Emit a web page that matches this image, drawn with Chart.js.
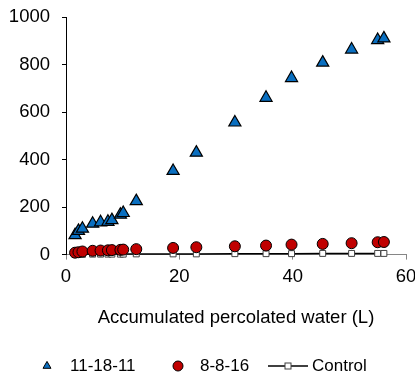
<!DOCTYPE html>
<html>
<head>
<meta charset="utf-8">
<script src="https://cdn.jsdelivr.net/npm/chart.js@4/dist/chart.umd.min.js"></script>
<style>
  html, body { margin: 0; padding: 0; background: #fff; }
  #wrap { width: 415px; height: 376px; }
</style>
</head>
<body>
<div id="wrap"><canvas id="chart"></canvas></div>
<script>
    "use strict";

    // Data
    const waterL    = [1.6, 2.2, 2.9, 4.7, 6.1, 7.4, 8.1, 9.6, 10.1, 12.4, 18.9, 23.0, 29.8, 35.3, 39.8, 45.3, 50.4, 55.0, 56.1];
    const soil111811 = [82, 100, 109, 130, 136, 138, 145, 168, 175, 225, 352, 429, 556, 660, 743, 808, 863, 903, 910];
    const soil8816   = [8, 10, 13, 16, 17, 18, 19, 20, 21, 23, 28, 31, 35, 38, 42, 45, 48, 52, 53];
    const control    = [1, 1, 1, 2, 2, 2, 2, 2, 2, 3, 3, 3, 4, 4, 4, 5, 5, 5, 5];
    const seriesNames = ['11-18-11', '8-8-16', 'Control'];
    const xTicks = [0, 20, 40, 60];
    const yTicks = [0, 200, 400, 600, 800, 1000];

    const FONT = '"Liberation Sans", Arial, sans-serif';
    const toPoints = function (ys) {
        return waterL.map(function (x, i) { return { x: x, y: ys[i] }; });
    };

    // Legend drawn under the axis title
    const bottomLegend = {
        id: 'bottomLegend',
        afterDraw: function (chart) {
            const ctx = chart.ctx;
            const y = chart.height - 10;
            ctx.save();
            ctx.lineWidth = 1;
            ctx.strokeStyle = '#000';

            // triangle
            const tx = 47, tr = 4.6;
            ctx.beginPath();
            ctx.moveTo(tx, y - tr);
            ctx.lineTo(tx + tr * 0.866, y + tr * 0.5);
            ctx.lineTo(tx - tr * 0.866, y + tr * 0.5);
            ctx.closePath();
            ctx.fillStyle = '#0a6fc0';
            ctx.fill();
            ctx.stroke();

            // circle
            ctx.beginPath();
            ctx.arc(178, y, 5, 0, Math.PI * 2);
            ctx.fillStyle = '#c00000';
            ctx.fill();
            ctx.stroke();

            // line + square
            ctx.beginPath();
            ctx.lineWidth = 1.5;
            ctx.moveTo(268, y);
            ctx.lineTo(308, y);
            ctx.stroke();
            ctx.lineWidth = 1;
            ctx.fillStyle = '#fff';
            ctx.fillRect(285, y - 3, 6, 6);
            ctx.strokeStyle = '#404040';
            ctx.strokeRect(285, y - 3, 6, 6);

            ctx.fillStyle = '#000';
            ctx.font = '17px ' + FONT;
            ctx.textBaseline = 'middle';
            ctx.textAlign = 'left';
            ctx.fillText(seriesNames[0], 70, y);
            ctx.fillText(seriesNames[1], 200, y);
            ctx.fillText(seriesNames[2], 312, y);
            ctx.restore();
        }
    };

    const ctx = document.getElementById('chart').getContext('2d');
    new Chart(ctx, {
        type: 'scatter',
        data: {
            datasets: [{
                label: seriesNames[2],
                data: toPoints(control),
                showLine: true,
                borderColor: '#000',
                borderWidth: 1.5,
                pointStyle: 'rect',
                pointRadius: 4.2,
                pointBackgroundColor: '#fff',
                pointBorderColor: '#404040',
                pointBorderWidth: 1,
                clip: false,
                order: 3
            }, {
                label: seriesNames[1],
                data: toPoints(soil8816),
                pointStyle: 'circle',
                pointRadius: 5.5,
                backgroundColor: '#c00000',
                borderColor: '#000',
                borderWidth: 1,
                clip: false,
                order: 2
            }, {
                label: seriesNames[0],
                data: toPoints(soil111811),
                pointStyle: 'triangle',
                pointRadius: 7,
                backgroundColor: '#0a6fc0',
                borderColor: '#000',
                borderWidth: 1.2,
                clip: false,
                order: 1
            }]
        },
        options: {
            responsive: true,
            maintainAspectRatio: false,
            animation: false,
            layout: { padding: { top: 17, right: 9, bottom: 47, left: 0 } },
            plugins: {
                legend: { display: false },
                tooltip: { enabled: false }
            },
            scales: {
                x: {
                    type: 'linear',
                    min: 0,
                    max: 60,
                    afterBuildTicks: function (scale) {
                        scale.ticks = xTicks.map(function (v) { return { value: v }; });
                    },
                    afterFit: function (scale) {
                        scale.paddingLeft = 0;
                        scale.paddingRight = 0;
                    },
                    grid: { drawOnChartArea: false, drawTicks: true, tickLength: 5, color: '#868686' },
                    border: { display: true, color: '#868686', width: 1 },
                    ticks: { color: '#000', padding: 6, maxRotation: 0, font: { family: FONT, size: 18.5 } },
                    title: {
                        display: true,
                        text: 'Accumulated percolated water (L)',
                        color: '#000',
                        padding: { top: 13, bottom: 0 },
                        font: { family: FONT, size: 18.5 }
                    }
                },
                y: {
                    type: 'linear',
                    min: 0,
                    max: 1000,
                    afterBuildTicks: function (scale) {
                        scale.ticks = yTicks.map(function (v) { return { value: v }; });
                    },
                    afterFit: function (scale) {
                        scale.width = 66;
                        scale.paddingTop = 0;
                        scale.paddingBottom = 0;
                    },
                    grid: { drawOnChartArea: false, drawTicks: true, tickLength: 4, color: '#000' },
                    border: { display: true, color: '#000', width: 1 },
                    ticks: {
                        color: '#000',
                        padding: 12,
                        font: { family: FONT, size: 18.5 },
                        callback: function (v) { return String(v); }
                    }
                }
            }
        },
        plugins: [bottomLegend]
    });
</script>
</body>
</html>
